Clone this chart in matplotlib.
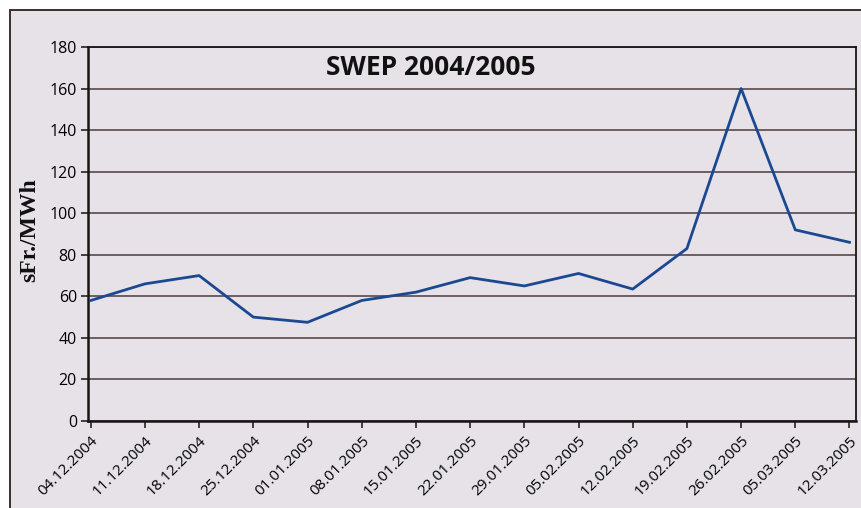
import matplotlib
matplotlib.use("Agg")
import matplotlib.pyplot as plt
from matplotlib.patches import Rectangle

dates = ["04.12.2004", "11.12.2004", "18.12.2004", "25.12.2004", "01.01.2005",
         "08.01.2005", "15.01.2005", "22.01.2005", "29.01.2005", "05.02.2005",
         "12.02.2005", "19.02.2005", "26.02.2005", "05.03.2005", "12.03.2005"]
prices = [58, 66, 70, 50, 47.5, 58, 62, 69, 65, 71, 63.5, 83, 160, 92, 86]
y_ticks = [0, 20, 40, 60, 80, 100, 120, 140, 160, 180]

W, H = 862, 508
bg = "#e6e2e8"
fig = plt.figure(figsize=(W / 100, H / 100), dpi=100)
fig.patch.set_facecolor("white")

# outer panel with border
fig.patches.append(Rectangle((10 / W, -0.1), 1.2, (H - 10) / H + 0.1,
                             transform=fig.transFigure, facecolor=bg,
                             edgecolor="#2a2020", linewidth=1.3, zorder=-10))

ax = fig.add_axes([88 / W, (H - 421) / H, (856 - 88) / W, (421 - 47) / H])
ax.set_facecolor(bg)

x = list(range(len(dates)))
ax.plot(x, prices, color="#1c4892", linewidth=2.0, zorder=3)

ax.set_ylim(0, 180)
ax.set_xlim(-0.05, 14.12)
ax.set_yticks(y_ticks)
ax.set_xticks(x)
ax.set_xticklabels(dates, rotation=45, ha="right", va="top",
                   rotation_mode="anchor", fontsize=11, family="Open Sans")
ax.set_yticklabels([str(v) for v in y_ticks], fontsize=11.5, family="Open Sans")

ax.yaxis.grid(True, color="#4a3c3c", linewidth=1.1)
ax.set_axisbelow(True)
ax.tick_params(axis="both", direction="out", length=5, width=1.2, color="#222222",
               pad=3)
ax.tick_params(axis="x", pad=4)
for side in ["left", "bottom"]:
    ax.spines[side].set_linewidth(1.8)
    ax.spines[side].set_color("#1a1414")
for side in ["top", "right"]:
    ax.spines[side].set_linewidth(1.3)
    ax.spines[side].set_color("#1a1414")

ax.text(0.447, 0.944, "SWEP 2004/2005", transform=ax.transAxes, ha="center",
        va="center", fontsize=19, fontweight="bold", family="Open Sans",
        color="#111111")

fig.text(30 / W, 1 - 230 / H, "sFr./MWh", rotation=90, ha="center", va="center",
         fontsize=17, fontweight="bold", family="Liberation Serif", color="#111111")

fig.savefig("out.png", dpi=100, facecolor=fig.get_facecolor())
